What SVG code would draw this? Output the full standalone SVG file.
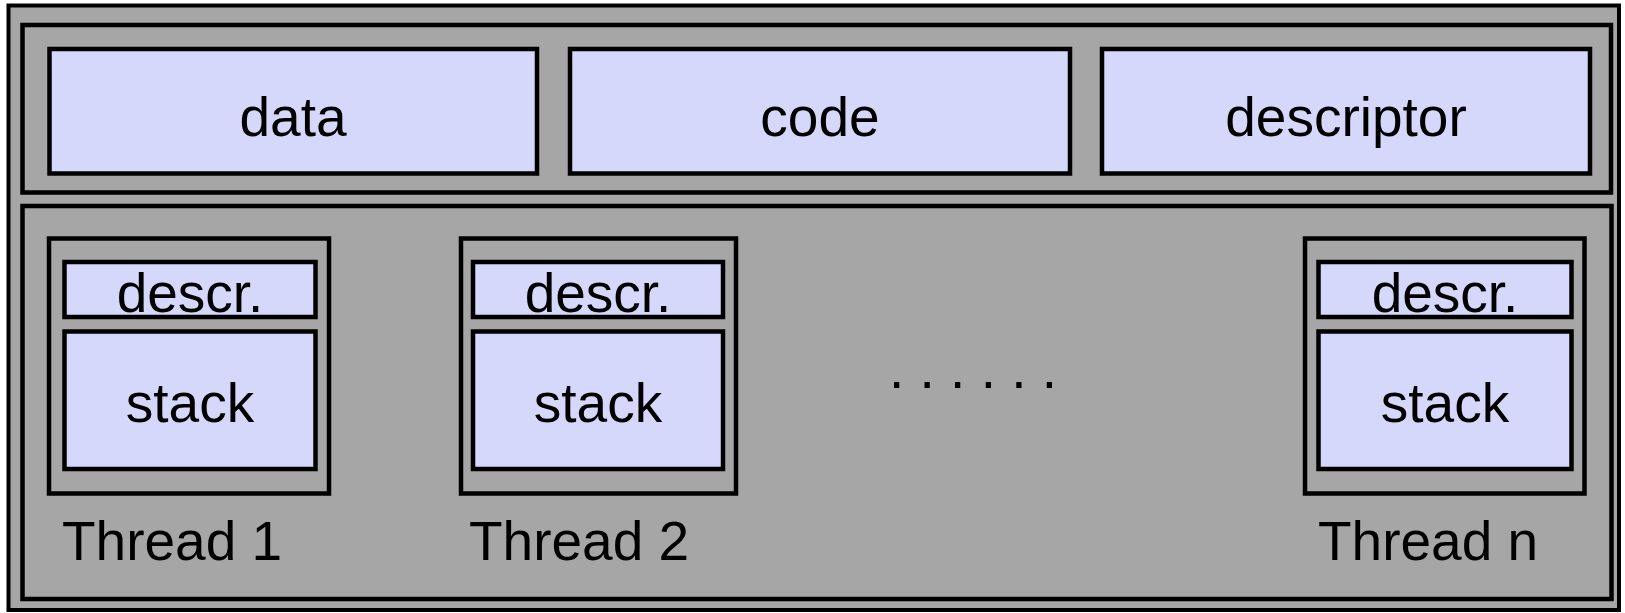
<svg xmlns="http://www.w3.org/2000/svg" width="1625" height="613" viewBox="0 0 1625 613">
<style>
.sec{fill:#a6a6a6;stroke:#000;stroke-width:4.5}
.box{fill:#d6d8fb;stroke:#000;stroke-width:4.5}
.thr{fill:#a6a6a6;stroke:#000;stroke-width:4.5}
text{font-family:"Liberation Sans",Arial,sans-serif;font-size:55px;fill:#000}
.c{text-anchor:middle}
</style>
<rect width="1625" height="613" fill="#ffffff"/>
<g id="process">
<rect x="8.5" y="5.5" width="1610.5" height="604.5" fill="#a6a6a6" stroke="#000" stroke-width="4"/>
</g>
<g id="shared">
<rect class="sec" x="22.5" y="25" width="1588.5" height="167.5"/>
</g>
<g id="data">
<rect class="box" x="49.5" y="49" width="487.5" height="124.5"/>
<text class="c" x="293" y="136">data</text>
</g>
<g id="code">
<rect class="box" x="570" y="49" width="500" height="124.5"/>
<text class="c" x="820" y="136">code</text>
</g>
<g id="descriptor">
<rect class="box" x="1102" y="49" width="488" height="124.5"/>
<text class="c" x="1346" y="136">descriptor</text>
</g>
<g id="threads">
<rect class="sec" x="22.5" y="206" width="1589" height="393"/>
</g>
<g id="thread1">
<rect class="thr" x="49" y="238.5" width="280" height="255"/>
<rect class="box" x="64.5" y="262" width="251" height="55"/>
<text class="c" x="190" y="311.5">descr.</text>
<rect class="box" x="64.5" y="331.5" width="251" height="137.5"/>
<text class="c" x="190" y="421.5">stack</text>
<text x="62" y="560">Thread 1</text>
</g>
<g id="thread2">
<rect class="thr" x="461" y="238.5" width="275" height="255"/>
<rect class="box" x="473" y="262" width="250" height="55"/>
<text class="c" x="598" y="311.5">descr.</text>
<rect class="box" x="473" y="331.5" width="250" height="137.5"/>
<text class="c" x="598" y="421.5">stack</text>
<text x="469" y="560">Thread 2</text>
</g>
<g id="ellipsis">
<text x="889" y="388">. . . . . .</text>
</g>
<g id="threadn">
<rect class="thr" x="1305" y="238.5" width="279.5" height="255"/>
<rect class="box" x="1318.5" y="262" width="253" height="55"/>
<text class="c" x="1445" y="311.5">descr.</text>
<rect class="box" x="1318.5" y="331.5" width="253" height="137.5"/>
<text class="c" x="1445" y="421.5">stack</text>
<text x="1318" y="560">Thread n</text>
</g>
<g id="connectors"></g>
</svg>
